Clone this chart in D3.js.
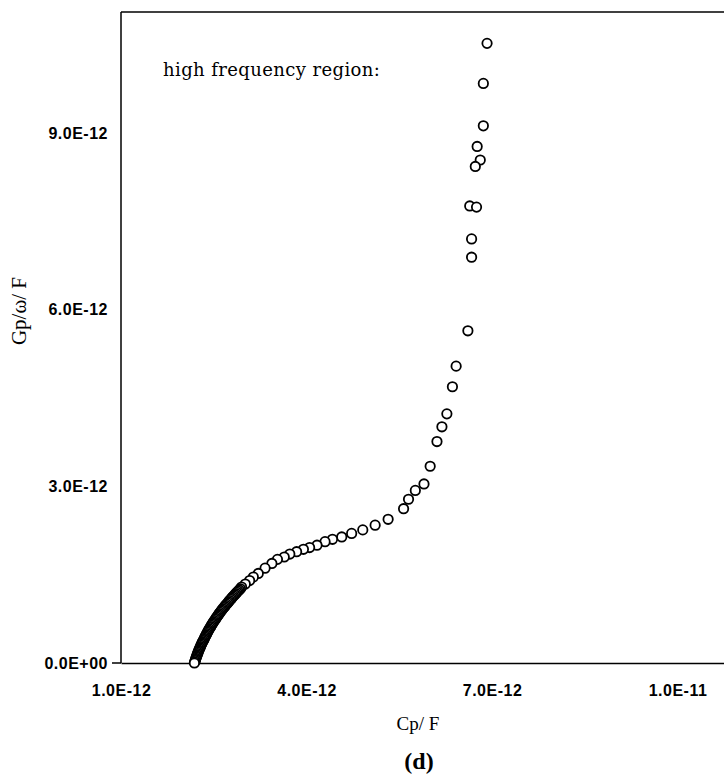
<!DOCTYPE html>
<html>
<head>
<meta charset="utf-8">
<script src="https://cdn.jsdelivr.net/npm/d3@7"></script>
<style>
  body { margin: 0; background: #fff; }
  .tick text { font-family: "Liberation Sans", Arial, sans-serif; font-weight: bold; font-size: 16px; letter-spacing: 0.5px; }
</style>
</head>
<body>
<div id="plot"></div>
<script>
// Cp (F) and Gp/w (F), high frequency region, ordered from the top of the curve down
var cpUpper = [6.92e-12, 6.86e-12, 6.86e-12, 6.76e-12, 6.81e-12, 6.73e-12, 6.64e-12, 6.75e-12, 6.67e-12, 6.67e-12,
               6.61e-12, 6.42e-12, 6.36e-12, 6.27e-12, 6.19e-12, 6.11e-12, 6.00e-12, 5.90e-12, 5.76e-12, 5.65e-12,
               5.57e-12, 5.32e-12, 5.11e-12, 4.91e-12, 4.73e-12, 4.57e-12, 4.42e-12, 4.30e-12, 4.17e-12, 4.05e-12,
               3.95e-12, 3.84e-12, 3.73e-12, 3.64e-12, 3.53e-12, 3.44e-12, 3.33e-12, 3.22e-12, 3.14e-12, 3.08e-12,
               3.01e-12, 2.95e-12];
var gpUpper = [10.52e-12, 9.84e-12, 9.12e-12, 8.77e-12, 8.54e-12, 8.43e-12, 7.76e-12, 7.74e-12, 7.20e-12, 6.89e-12,
               5.64e-12, 5.04e-12, 4.69e-12, 4.23e-12, 4.01e-12, 3.76e-12, 3.34e-12, 3.04e-12, 2.93e-12, 2.78e-12,
               2.62e-12, 2.44e-12, 2.34e-12, 2.26e-12, 2.20e-12, 2.14e-12, 2.10e-12, 2.06e-12, 2.00e-12, 1.96e-12,
               1.93e-12, 1.89e-12, 1.85e-12, 1.80e-12, 1.76e-12, 1.69e-12, 1.61e-12, 1.52e-12, 1.46e-12, 1.40e-12,
               1.34e-12, 1.29e-12];

// densely packed low part of the curve
var cpLow = [2.930e-12, 2.911e-12, 2.892e-12, 2.875e-12, 2.857e-12, 2.840e-12, 2.821e-12, 2.805e-12, 2.788e-12, 2.773e-12,
             2.755e-12, 2.741e-12, 2.725e-12, 2.708e-12, 2.692e-12, 2.677e-12, 2.662e-12, 2.646e-12, 2.632e-12, 2.617e-12,
             2.603e-12, 2.588e-12, 2.576e-12, 2.563e-12, 2.550e-12, 2.537e-12, 2.524e-12, 2.511e-12, 2.498e-12, 2.486e-12,
             2.475e-12, 2.463e-12, 2.452e-12, 2.440e-12, 2.429e-12, 2.418e-12, 2.408e-12, 2.398e-12, 2.388e-12, 2.378e-12,
             2.368e-12, 2.359e-12, 2.350e-12, 2.341e-12, 2.330e-12, 2.320e-12, 2.311e-12, 2.303e-12, 2.294e-12, 2.286e-12,
             2.277e-12, 2.269e-12, 2.261e-12, 2.254e-12, 2.246e-12, 2.239e-12, 2.232e-12, 2.225e-12, 2.219e-12, 2.212e-12,
             2.206e-12, 2.200e-12, 2.193e-12, 2.187e-12];
var gpLow = [1.26e-12, 1.24e-12, 1.22e-12, 1.20e-12, 1.18e-12, 1.16e-12, 1.14e-12, 1.12e-12, 1.10e-12, 1.08e-12,
             1.06e-12, 1.04e-12, 1.02e-12, 1.00e-12, 0.98e-12, 0.96e-12, 0.94e-12, 0.92e-12, 0.90e-12, 0.88e-12,
             0.86e-12, 0.84e-12, 0.82e-12, 0.80e-12, 0.78e-12, 0.76e-12, 0.74e-12, 0.72e-12, 0.70e-12, 0.68e-12,
             0.66e-12, 0.64e-12, 0.62e-12, 0.60e-12, 0.58e-12, 0.56e-12, 0.54e-12, 0.52e-12, 0.50e-12, 0.48e-12,
             0.46e-12, 0.44e-12, 0.42e-12, 0.40e-12, 0.38e-12, 0.36e-12, 0.34e-12, 0.32e-12, 0.30e-12, 0.28e-12,
             0.26e-12, 0.24e-12, 0.22e-12, 0.20e-12, 0.18e-12, 0.16e-12, 0.14e-12, 0.12e-12, 0.10e-12, 0.08e-12,
             0.06e-12, 0.04e-12, 0.02e-12, 0.00e-12];

var xTicks = [1e-12, 4e-12, 7e-12, 1e-11];
var xTickLabels = ['1.0E-12', '4.0E-12', '7.0E-12', '1.0E-11'];
var yTicks = [0, 3e-12, 6e-12, 9e-12];
var yTickLabels = ['0.0E+00', '3.0E-12', '6.0E-12', '9.0E-12'];

var cp = cpUpper.concat(cpLow);
var gp = gpUpper.concat(gpLow);

var svg_width = 724;
var svg_height = 782;
var left = 121;
var top_m = 12;
var bottom = 663;

var svg = d3.select('#plot').append('svg')
    .attr('width', svg_width)
    .attr('height', svg_height);

var xscale = d3.scaleLinear()
    .domain([1e-12, 1.1e-11])
    .range([left, left + 10 / 3 * 185.5]);

var yscale = d3.scaleLinear()
    .domain([0, 1.1e-11])
    .range([bottom, bottom - 11 / 3 * 176.7]);

// top border
svg.append('line')
  .attr('x1', left).attr('x2', svg_width)
  .attr('y1', top_m).attr('y2', top_m)
  .attr('stroke', '#000').attr('stroke-width', 1.5);

// x axis
var xaxis = d3.axisBottom(xscale)
    .tickValues(xTicks)
    .tickSize(0)
    .tickPadding(22)
    .tickFormat((d, i) => xTickLabels[i]);

svg.append('g')
  .attr('class', 'xaxis')
  .attr('transform', 'translate(0,' + bottom + ')')
  .call(xaxis)
  .call(g => g.select('.domain').attr('stroke-width', 1.5));

// y axis
var yaxis = d3.axisLeft(yscale)
    .tickValues(yTicks)
    .tickSize(0)
    .tickPadding(13)
    .tickFormat((d, i) => yTickLabels[i]);

svg.append('g')
  .attr('class', 'yaxis')
  .attr('transform', 'translate(' + left + ',0)')
  .call(yaxis)
  .call(g => g.select('.domain').attr('d', 'M0,' + top_m + 'V' + bottom).attr('stroke-width', 1.5));

// small tick at the origin
svg.append('line')
  .attr('x1', left - 9).attr('x2', left)
  .attr('y1', bottom).attr('y2', bottom)
  .attr('stroke', '#000').attr('stroke-width', 1.5);

// points
svg.append('g')
  .selectAll('circle')
  .data(d3.range(cp.length))
  .enter().append('circle')
    .attr('cx', i => xscale(cp[i]))
    .attr('cy', i => yscale(gp[i]))
    .attr('r', 4.7)
    .attr('fill', '#fff')
    .attr('stroke', '#000')
    .attr('stroke-width', 1.8);

// annotation
svg.append('text')
  .attr('x', 163).attr('y', 76)
  .style('font-family', '"DejaVu Serif", serif')
  .style('font-size', '18px')
  .style('letter-spacing', '0.4px')
  .text('high frequency region:');

// x axis label
svg.append('text')
  .attr('x', 418).attr('y', 730)
  .attr('text-anchor', 'middle')
  .style('font-family', '"Liberation Serif", "Times New Roman", serif')
  .style('font-size', '19px')
  .text('Cp/ F');

// y axis label
svg.append('text')
  .attr('transform', 'translate(26,311) rotate(-90)')
  .attr('text-anchor', 'middle')
  .style('font-family', '"Liberation Serif", "Times New Roman", serif')
  .style('font-size', '21px')
  .text('Gp/\u03c9/ F');

// panel label
svg.append('text')
  .attr('x', 419).attr('y', 769)
  .attr('text-anchor', 'middle')
  .style('font-family', '"Liberation Serif", "Times New Roman", serif')
  .style('font-weight', 'bold')
  .style('font-size', '24px')
  .text('(d)');
</script>
</body>
</html>
